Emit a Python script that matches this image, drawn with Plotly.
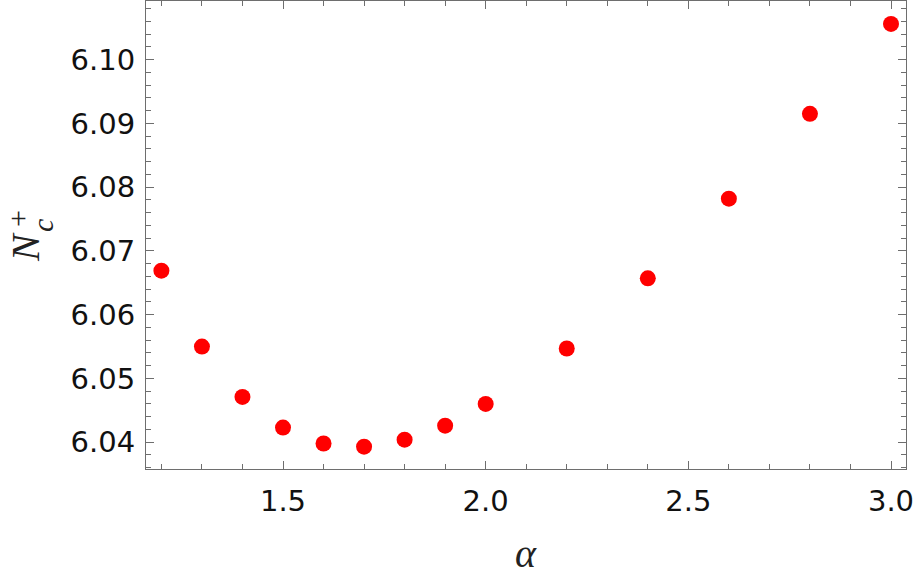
import plotly.graph_objects as go

# alpha values and critical N_c^+
alpha = [1.2, 1.3, 1.4, 1.5, 1.6, 1.7, 1.8, 1.9, 2.0, 2.2, 2.4, 2.6, 2.8, 3.0]
n_c = [6.0669, 6.0550, 6.0471, 6.0423, 6.0398, 6.0393, 6.0404, 6.0426,
       6.0460, 6.0547, 6.0657, 6.0782, 6.0915, 6.1056]

x_ticks = [1.5, 2.0, 2.5, 3.0]
x_labels = ["1.5", "2.0", "2.5", "3.0"]
y_ticks = [6.04, 6.05, 6.06, 6.07, 6.08, 6.09, 6.10]
y_labels = ["6.04", "6.05", "6.06", "6.07", "6.08", "6.09", "6.10"]

frame = "#6e6e6e"
L, R, T, B = 146, 9, 1, 116
W, H = 915, 585

fig = go.Figure()
fig.add_trace(go.Scatter(
    x=alpha, y=n_c, mode="markers",
    marker=dict(color="#ff0000", size=16, line=dict(width=0)),
    showlegend=False, hoverinfo="skip",
))

axis_common = dict(
    showgrid=False, zeroline=False, showline=True, linecolor=frame, linewidth=1.2,
    mirror="ticks", ticks="inside", ticklen=8, tickwidth=1, tickcolor=frame,
    tickfont=dict(family="DejaVu Sans", size=29, color="#111"),
    automargin=False,
)


def page_xy(px, py):
    # page pixel -> paper coordinates
    return (px - L) / (W - L - R), (H - B - py) / (H - T - B)


title_font = dict(family="Liberation Serif", color="#222")
notes = []
for txt, px, py, size, ang in [
    ("<i>α</i>", 526, 553, 40, 0),
    ("<i>N</i>", 25, 247, 40, -90),
    ("<i>c</i>", 43, 226, 30, -90),
    ("+", 17, 219, 30, -90),
]:
    ax, ay = page_xy(px, py)
    notes.append(dict(text=txt, x=ax, y=ay, xref="paper", yref="paper",
                      xanchor="center", yanchor="middle", textangle=ang,
                      showarrow=False, font=dict(size=size, **title_font)))

fig.update_layout(
    width=W, height=H,
    margin=dict(l=L, r=R, t=T, b=B),
    plot_bgcolor="white", paper_bgcolor="white",
    xaxis=dict(
        range=[1.162, 3.037], tickvals=x_ticks, ticktext=x_labels,
        minor=dict(dtick=0.1, tick0=1.0, ticks="inside", ticklen=5, tickcolor=frame),
        ticklabelstandoff=6,
        **axis_common,
    ),
    yaxis=dict(
        range=[6.0358, 6.1092], tickvals=y_ticks, ticktext=y_labels,
        minor=dict(dtick=0.002, tick0=6.0, ticks="inside", ticklen=5, tickcolor=frame),
        ticklabelstandoff=4,
        **axis_common,
    ),
    annotations=notes,
)

# drop the default body margin so the figure sits at the page corner
fig.write_html("out.html", config={"displayModeBar": False},
               post_script="document.body.style.margin='0';")
